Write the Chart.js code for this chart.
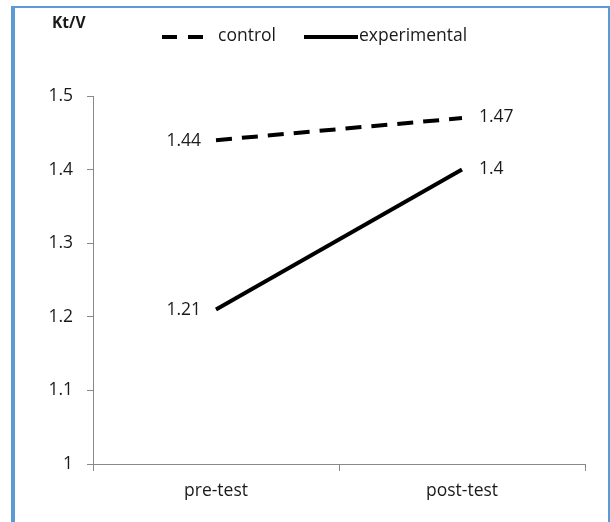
<!DOCTYPE html>
<html>
<head>
<meta charset="utf-8">
<script src="https://cdn.jsdelivr.net/npm/chart.js@4.4.0/dist/chart.umd.min.js"></script>
<style>
  html, body { margin: 0; padding: 0; background: #fff; }
  #wrap { position: relative; width: 610px; height: 522px; }
  #frame {
    position: absolute; left: 11px; top: 6px; width: 593px; height: 530px;
    border-left: 4px solid #5b9bd5; border-top: 2px solid #5b9bd5; border-right: 2px solid #5b9bd5;
    pointer-events: none;
  }
</style>
</head>
<body>
<div id="wrap">
  <canvas id="myChart" width="610" height="522"></canvas>
  <div id="frame"></div>
</div>
<script>
const categories = ['pre-test', 'post-test'];
const controlValues = [1.44, 1.47];
const experimentalValues = [1.21, 1.4];
const seriesNames = ['control', 'experimental'];
const yTicks = [1, 1.1, 1.2, 1.3, 1.4, 1.5];
const yTitle = 'Kt/V';

const font = '"Open Sans", "Noto Sans", sans-serif';
const textSize = 17.5;

// value labels: left of the first point, right of the second
const valueLabels = {
    id: 'valueLabels',
    afterDatasetsDraw(chart) {
        const ctx = chart.ctx;
        ctx.save();
        ctx.font = textSize + 'px ' + font;
        ctx.fillStyle = '#1a1a1a';
        ctx.textBaseline = 'middle';
        chart.data.datasets.forEach((ds, i) => {
            chart.getDatasetMeta(i).data.forEach((pt, j) => {
                const txt = String(ds.data[j]);
                if (j === 0) {
                    ctx.textAlign = 'right';
                    ctx.fillText(txt, pt.x - 15, pt.y + 1);
                } else {
                    ctx.textAlign = 'left';
                    ctx.fillText(txt, pt.x + 17, pt.y - 1);
                }
            });
        });
        ctx.restore();
    },
};

// legend and axis title at the top
const topText = {
    id: 'topText',
    afterDraw(chart) {
        const ctx = chart.ctx;
        ctx.save();
        ctx.fillStyle = '#1a1a1a';
        ctx.textBaseline = 'middle';
        ctx.font = 'bold 15.5px ' + font;
        ctx.textAlign = 'left';
        ctx.fillText(yTitle, 52, 24);

        ctx.strokeStyle = '#000';
        ctx.lineWidth = 4;
        ctx.setLineDash([15, 11]);
        ctx.beginPath();
        ctx.moveTo(162, 37);
        ctx.lineTo(204, 37);
        ctx.stroke();
        ctx.setLineDash([]);
        ctx.beginPath();
        ctx.moveTo(304, 37);
        ctx.lineTo(358, 37);
        ctx.stroke();

        ctx.font = textSize + 'px ' + font;
        ctx.fillText(seriesNames[0], 218, 36);
        ctx.fillText(seriesNames[1], 359, 36);
        ctx.restore();
    },
};

const data = {
    labels: categories,
    datasets: [{
        label: seriesNames[0],
        data: controlValues,
        borderColor: '#000',
        borderWidth: 4,
        borderDash: [16, 10],
        pointRadius: 0,
    }, {
        label: seriesNames[1],
        data: experimentalValues,
        borderColor: '#000',
        borderWidth: 4,
        pointRadius: 0,
    }],
};

const config = {
    type: 'line',
    data: data,
    options: {
        responsive: false,
        animation: false,
        layout: { padding: { top: 96, right: 25, left: 0, bottom: 0 } },
        plugins: {
            legend: { display: false },
            tooltip: { enabled: false },
        },
        scales: {
            x: {
                offset: true,
                afterFit: function (scale) { scale.height = 58; },
                grid: { offset: true, drawOnChartArea: false, tickLength: 7, color: '#888' },
                border: { color: '#888' },
                ticks: { color: '#1a1a1a', font: { family: font, size: textSize }, padding: 10 },
            },
            y: {
                min: 1,
                max: 1.5,
                afterFit: function (scale) { scale.width = 93; },
                afterBuildTicks: function (scale) {
                    scale.ticks = yTicks.map(v => ({ value: v }));
                },
                grid: { drawOnChartArea: false, tickLength: 6, color: '#888' },
                border: { color: '#888' },
                ticks: {
                    color: '#1a1a1a',
                    font: { family: font, size: textSize },
                    padding: 14,
                    callback: function (value) { return String(value); },
                },
            },
        },
    },
    plugins: [valueLabels, topText],
};

const ctx = document.getElementById('myChart').getContext('2d');
const myChart = new Chart(ctx, config);
</script>
</body>
</html>
